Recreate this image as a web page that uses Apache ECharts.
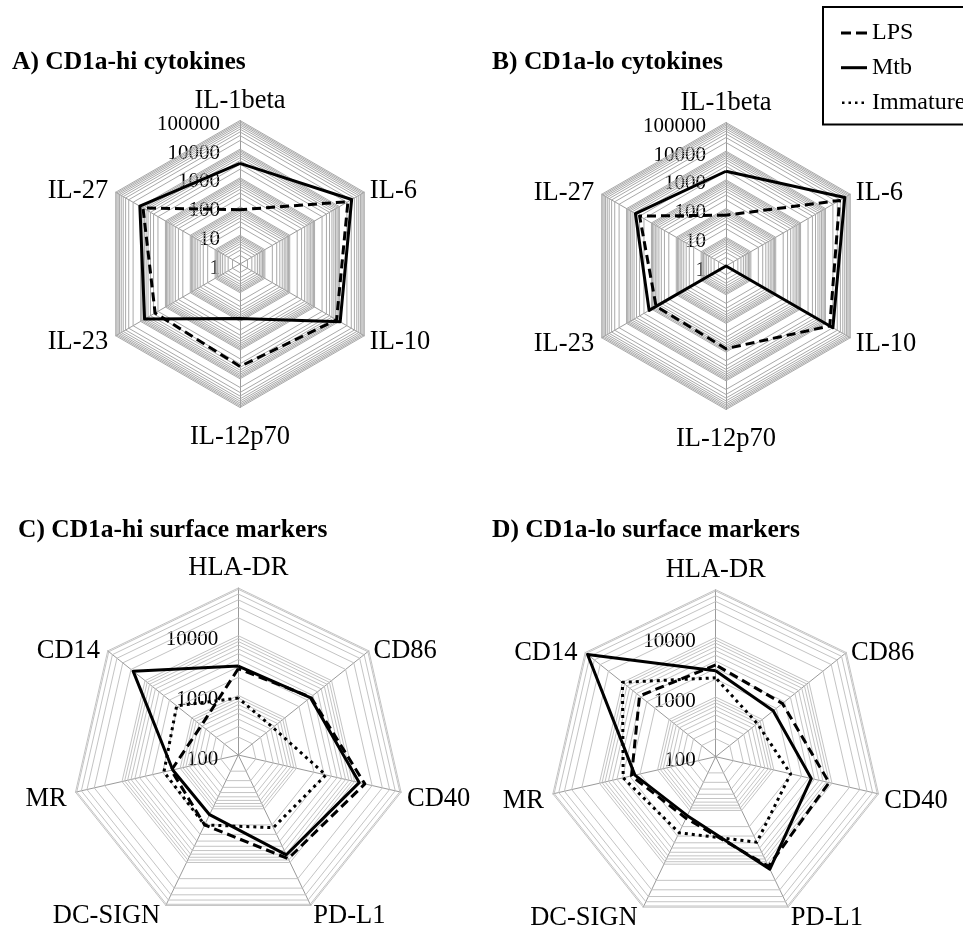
<!DOCTYPE html>
<html><head><meta charset="utf-8">
<script src="https://cdn.jsdelivr.net/npm/echarts@6/dist/echarts.min.js"></script>
<style>html,body{margin:0;padding:0;background:#fff}#c{width:963px;height:929px}</style>
</head><body><div id="c"></div>
<script>
// ---- data (clockwise from the top axis) ----
const cytokines = ['IL-1beta', 'IL-6', 'IL-10', 'IL-12p70', 'IL-23', 'IL-27'];
const markers = ['HLA-DR', 'CD86', 'CD40', 'PD-L1', 'DC-SIGN', 'MR', 'CD14'];
const seriesNames = ['LPS', 'Mtb', 'Immature'];
const titles = ['A) CD1a-hi cytokines', 'B) CD1a-lo cytokines', 'C) CD1a-hi surface markers', 'D) CD1a-lo surface markers'];

const aLPS = [78, 22000, 7700, 3700, 2600, 8000];
const aMtb = [3200, 31000, 10700, 80, 6900, 10700];
const bLPS = [59, 37000, 15000, 760, 650, 3000];
const bMtb = [2000, 60000, 20000, 1, 1240, 4400];

const cLPS = [2800, 3600, 15000, 8500, 2000, 1420, 620];
const cMtb = [3100, 3500, 12000, 7200, 1290, 1340, 18000];
const cImm = [900, 550, 3200, 2250, 2000, 1900, 2100];
const dLPS = [3450, 2700, 8900, 11000, 1400, 2800, 4300];
const dMtb = [2750, 1710, 4400, 12400, 1250, 2450, 56000];
const dImm = [2100, 780, 1940, 3900, 2600, 3900, 10000];

const cytoTicks = [1, 10, 100, 1000, 10000, 100000];
const markerTicks = [100, 1000, 10000];
const cytoLogRange = [0, 5];
const markerLogRange = [2, 4.8];

// label placement classes per axis name (t = top, r/l = right/left, lo = lower)
const cytoNameClass = ['t', 'r', 'rlo', 'b', 'llo', 'l'];
const markerNameClass = ['t', 'r2', 'r2lo', 'r2lo', 'l2lo', 'l2lo', 'l2'];

// ---- helpers ----
const FONT = "'Liberation Serif', 'DejaVu Serif', serif";
// ECharts radar runs counter-clockwise; reorder so the picture runs clockwise
const ccw = arr => [arr[0]].concat(arr.slice(1).reverse());
const lg = arr => ccw(arr).map(v => Math.log10(v));

function minorRings(logRange) {
  const out = [];
  const lo = Math.floor(logRange[0]), hi = Math.ceil(logRange[1]);
  for (let d = lo; d <= hi; d++) {
    for (let m = 1; m <= 9; m++) {
      const l = Math.log10(m * Math.pow(10, d));
      if (l >= logRange[0] - 1e-9 && l <= logRange[1] + 1e-9) out.push(l);
    }
  }
  if (!out.some(l => Math.abs(l - logRange[1]) < 1e-9)) out.push(logRange[1]);
  return out;
}

const NAME_SIZE = 26.5;
function nameRich(pads) {
  const r = {};
  Object.keys(pads).forEach(k => {
    r[k] = { fontFamily: FONT, fontSize: NAME_SIZE, color: '#000', padding: pads[k] };
  });
  return r;
}
const cytoPads = { t: [0, 0, 0, 0], r: [0, 0, 0, 3], rlo: [10, 0, 0, 3], b: [13, 0, 0, 0], llo: [10, 5, 0, 0], l: [0, 5, 0, 0] };
const markerPads = { t: [0, 0, 0, 0], r2: [8, 0, 0, 0], r2lo: [11, 0, 0, 0], l2lo: [11, 3, 0, 0], l2: [8, 3, 0, 0] };

function radarCfg(center, radius, names, classes, pads, logRange, ticks, splitNum, gap) {
  const fmt = v => {
    const r = Math.round(v);
    if (Math.abs(v - r) < 1e-6 && ticks.indexOf(Math.pow(10, r)) >= 0) return '{p|' + Math.pow(10, r) + '}';
    return '';
  };
  return {
    center: center, radius: radius, shape: 'polygon', startAngle: 90,
    splitNumber: splitNum,
    indicator: ccw(names).map((n, i) => ({
      name: n, min: logRange[0], max: logRange[1],
      axisLabel: i === 0 ? {
        show: true, formatter: fmt, color: '#000', fontFamily: FONT, fontSize: 21,
        margin: 20, hideOverlap: false,
        rich: { p: { fontFamily: FONT, fontSize: 21, color: '#000', padding: [8, 0, 0, 0] } }
      } : { show: false }
    })),
    axisName: {
      color: '#000', fontFamily: FONT, fontSize: NAME_SIZE,
      formatter: name => '{' + classes[names.indexOf(name)] + '|' + name + '}',
      rich: nameRich(pads)
    },
    nameGap: gap,
    splitLine: { show: false },
    splitArea: { show: false },
    axisLine: { show: true, lineStyle: { color: '#9a9a9a', width: 1 } },
    axisTick: { show: false },
    axisLabel: { show: false }
  };
}

const radars = [
  radarCfg([240, 264], 143.5, cytokines, cytoNameClass, cytoPads, cytoLogRange, cytoTicks, 5, 3),
  radarCfg([726, 266], 143.5, cytokines, cytoNameClass, cytoPads, cytoLogRange, cytoTicks, 5, 3),
  radarCfg([238.3, 755], 167, markers, markerNameClass, markerPads, markerLogRange, markerTicks, 14, 6),
  radarCfg([715.7, 756.7], 167, markers, markerNameClass, markerPads, markerLogRange, markerTicks, 14, 6)
];

const styles = {
  LPS: { color: '#000', width: 3, type: [9, 5] },
  Mtb: { color: '#000', width: 3, type: 'solid' },
  Immature: { color: '#000', width: 3, type: [3, 4] }
};

const series = [];
function gridSeries(ri, n, logRange, color) {
  series.push({
    type: 'radar', radarIndex: ri, silent: true, symbol: 'none', z: 1,
    lineStyle: { color: color, width: 1 },
    itemStyle: { color: color },
    data: minorRings(logRange).map(l => ({ value: new Array(n).fill(l) }))
  });
}
function dataSeries(ri, name, vals) {
  series.push({
    type: 'radar', radarIndex: ri, name: name, symbol: 'none', z: 3,
    lineStyle: styles[name], itemStyle: { color: '#000' },
    data: [{ value: lg(vals), name: name }]
  });
}
gridSeries(0, 6, cytoLogRange, '#a9a9a9');
gridSeries(1, 6, cytoLogRange, '#a9a9a9');
gridSeries(2, 7, markerLogRange, '#c4c4c4');
gridSeries(3, 7, markerLogRange, '#c4c4c4');
dataSeries(0, 'LPS', aLPS); dataSeries(0, 'Mtb', aMtb);
dataSeries(1, 'LPS', bLPS); dataSeries(1, 'Mtb', bMtb);
dataSeries(2, 'LPS', cLPS); dataSeries(2, 'Mtb', cMtb); dataSeries(2, 'Immature', cImm);
dataSeries(3, 'LPS', dLPS); dataSeries(3, 'Mtb', dMtb); dataSeries(3, 'Immature', dImm);

const icons = {
  LPS: 'path://M0,0M26,14M0,5.5h10v3h-10zM15,5.5h11v3h-11z',
  Mtb: 'path://M0,0M26,14M0,5.5h26v3h-26z',
  Immature: 'path://M0,0M26,14M1,6h2.5v2.5h-2.5zM7.5,6h2.5v2.5h-2.5zM14,6h2.5v2.5h-2.5zM20.5,6h2.5v2.5h-2.5z'
};

const titleStyle = { fontFamily: FONT, fontWeight: 'bold', fontSize: 25.5, color: '#000' };
const titlePos = [[12, 49], [492, 49], [18, 517], [492, 517]];

const option = {
  animation: false,
  backgroundColor: '#fff',
  title: titles.map((t, i) => ({ text: t, left: titlePos[i][0], top: titlePos[i][1], padding: 0, textStyle: titleStyle })),
  legend: {
    orient: 'vertical', left: 823, top: 7,
    borderColor: '#000', borderWidth: 2,
    padding: [14, 40, 10, 18],
    itemWidth: 26, itemHeight: 14, itemGap: 10.7,
    selectedMode: false,
    textStyle: { fontFamily: FONT, fontSize: 24, color: '#000', lineHeight: 24 },
    data: seriesNames.map(n => ({ name: n, icon: icons[n] }))
  },
  radar: radars,
  series: series
};

const chart = echarts.init(document.getElementById('c'), null, { renderer: 'canvas' });
chart.setOption(option);
</script>
</body></html>
